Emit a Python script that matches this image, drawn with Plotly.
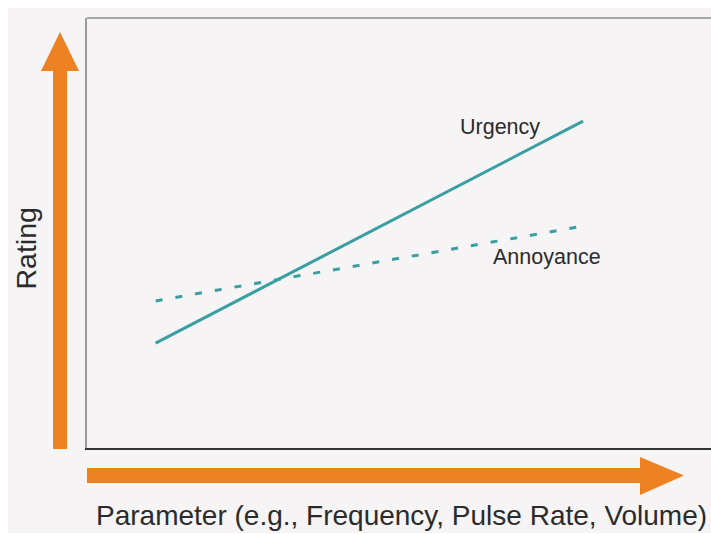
import plotly.graph_objects as go

# Data (arbitrary units: x 0-100, y 0-100)
x_vals = [11.0, 79.5]
urgency = [24.4, 76.0]
annoyance = [34.2, 51.6]
series_names = ["Urgency", "Annoyance"]
x_title = "Parameter (e.g., Frequency, Pulse Rate, Volume)"
y_title = "Rating"

W, H = 711, 533
L, R, T, B = 87, 0, 18, 85
PW, PH = W - L - R, H - T - B

def px(xs):
    return (xs - L) / PW

def py(ys):
    return (H - B - ys) / PH

TEAL = "#3a9fa2"
ORANGE = "#ee8121"
TXT = "#2b2b2b"
BG = "#f6f4f5"

fig = go.Figure()
fig.add_trace(go.Scatter(x=x_vals, y=urgency, mode="lines", name=series_names[0],
                         line=dict(color=TEAL, width=3), hoverinfo="skip"))
fig.add_trace(go.Scatter(x=x_vals, y=annoyance, mode="lines", name=series_names[1],
                         line=dict(color=TEAL, width=3, dash="7px,13px"), hoverinfo="skip"))

shapes = []
# white page edges (top and left)
shapes.append(dict(type="rect", xref="paper", yref="paper", x0=px(0), x1=px(711),
                   y0=py(8), y1=py(0), fillcolor="white", line=dict(width=0), layer="below"))
shapes.append(dict(type="rect", xref="paper", yref="paper", x0=px(0), x1=px(8),
                   y0=py(533), y1=py(0), fillcolor="white", line=dict(width=0), layer="below"))
# top border
shapes.append(dict(type="line", xref="paper", yref="paper", x0=0, x1=1, y0=1, y1=1,
                   line=dict(color="#a6a6a6", width=2)))
# vertical arrow
path_v = (f"M {px(53)},{py(449)} L {px(67)},{py(449)} L {px(67)},{py(71)} L {px(79)},{py(71)} "
          f"L {px(60)},{py(32)} L {px(41)},{py(71)} L {px(53)},{py(71)} Z")
shapes.append(dict(type="path", xref="paper", yref="paper", path=path_v,
                   fillcolor=ORANGE, line=dict(width=0)))
path_h = (f"M {px(87)},{py(468)} L {px(640)},{py(468)} L {px(640)},{py(457)} L {px(684)},{py(475.5)} "
          f"L {px(640)},{py(495)} L {px(640)},{py(483)} L {px(87)},{py(483)} Z")
shapes.append(dict(type="path", xref="paper", yref="paper", path=path_h,
                   fillcolor=ORANGE, line=dict(width=0)))

FONT = "Liberation Sans, Arial"
annotations = [
    dict(x=66.2, y=74.6, xref="x", yref="y", text=series_names[0], showarrow=False,
         xanchor="center", yanchor="middle",
         font=dict(size=21.5, color=TXT, family=FONT)),
    dict(x=73.7, y=44.4, xref="x", yref="y", text=series_names[1], showarrow=False,
         xanchor="center", yanchor="middle",
         font=dict(size=21.5, color=TXT, family=FONT)),
    dict(x=px(401.5), y=py(515), xref="paper", yref="paper", text=x_title, showarrow=False,
         xanchor="center", yanchor="middle",
         font=dict(size=28, color=TXT, family=FONT)),
    dict(x=px(25.5), y=py(249), xref="paper", yref="paper", text=y_title, showarrow=False,
         xanchor="center", yanchor="middle",
         textangle=-90, font=dict(size=28.5, color=TXT, family=FONT)),
]

fig.update_layout(
    width=W, height=H,
    margin=dict(l=L, r=R, t=T, b=B, pad=0),
    paper_bgcolor=BG,
    plot_bgcolor=BG,
    showlegend=False,
    shapes=shapes,
    annotations=annotations,
    xaxis=dict(range=[0, 100], showgrid=False, zeroline=False, showticklabels=False,
               ticks="", showline=True, linecolor="#333333", linewidth=1.5, fixedrange=True),
    yaxis=dict(range=[0, 100], showgrid=False, zeroline=False, showticklabels=False,
               ticks="", showline=True, linecolor="#999999", linewidth=1.5, fixedrange=True),
)

fig.write_html(
    "out.html",
    config={"displayModeBar": False, "responsive": False},
    default_width=f"{W}px",
    default_height=f"{H}px",
    post_script="document.body.style.margin='0';document.documentElement.style.overflow='hidden';",
)
